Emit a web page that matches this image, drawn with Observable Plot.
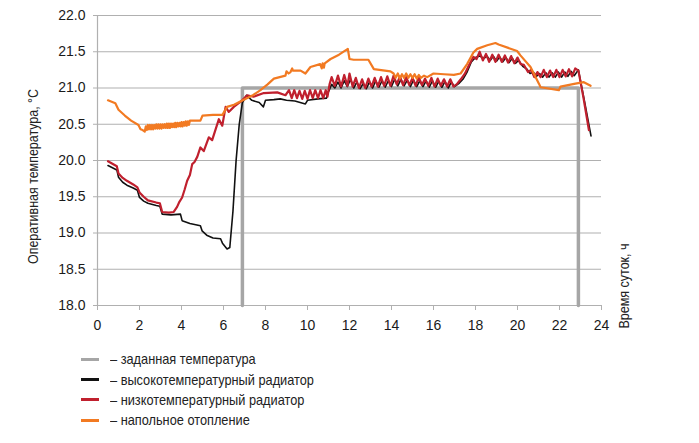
<!DOCTYPE html>
<html><head><meta charset="utf-8">
<script src="https://cdn.jsdelivr.net/npm/d3@7"></script>
<script src="https://cdn.jsdelivr.net/npm/@observablehq/plot@0.6"></script>
<style>
body{margin:0;background:#fff;font-family:"Liberation Sans",Arial,sans-serif;}
#wrap{position:relative;width:699px;height:443px;}
.legend{position:absolute;left:81px;top:349px;}
.row{height:20.4px;display:flex;align-items:center;font-size:14.5px;color:#222;white-space:nowrap;}
.sw{width:18px;height:3px;margin-right:11px;flex:none;}
.tx{display:inline-block;transform:scaleX(0.88);transform-origin:left center;}
</style></head>
<body><div id="wrap"></div>
<script>
const xTicks = [0,2,4,6,8,10,12,14,16,18,20,22,24];
const yTicks = [18.0,18.5,19.0,19.5,20.0,20.5,21.0,21.5,22.0];
const seriesNames = ["заданная температура","высокотемпературный радиатор","низкотемпературный радиатор","напольное отопление"];
const seriesColors = ["#a6a6a6","#111111","#c0202e","#f27a22"];
const xLabel = "Время суток, ч";
const yLabel = "Оперативная температура, °C";

const setpoint = [[6.9,18],[6.9,21],[22.9,21],[22.9,18]];

const highTemp = [[0.5,19.93],[0.92,19.87],[1.0,19.77],[1.2,19.7],[1.4,19.66],[1.7,19.62],[1.9,19.59],[2.0,19.49],[2.2,19.44],[2.4,19.41],[2.8,19.38],[2.97,19.37],[3.08,19.26],[3.5,19.25],[3.95,19.26],[4.03,19.17],[4.4,19.13],[4.9,19.1],[4.98,19.03],[5.2,18.97],[5.5,18.93],[5.86,18.92],[5.95,18.86],[6.17,18.78],[6.3,18.8],[6.45,19.3],[6.6,20.0],[6.75,20.5],[6.9,20.8],[7.1,20.9],[7.35,20.83],[7.7,20.8],[7.9,20.74],[8.0,20.83],[8.4,20.84],[8.7,20.85],[9.0,20.83],[9.4,20.82],[9.9,20.78],[10.0,20.83],[10.5,20.85],[10.9,20.86],[11.0,20.95],[11.15,21.05],[11.3,21.0],[11.45,21.08],[11.6,21.0],[11.75,21.1],[11.9,21.02],[12.05,21.12],[12.2,21.0],[12.35,21.08],[12.5,20.99],[12.65,21.06],[12.8,20.99],[12.95,21.08],[13.1,21.0],[13.25,21.1],[13.4,21.01],[13.55,21.1],[13.7,21.01],[13.85,21.1],[14.0,21.02],[14.15,21.12],[14.3,21.03],[14.45,21.12],[14.6,21.03],[14.75,21.11],[14.9,21.02],[15.05,21.11],[15.2,21.02],[15.35,21.1],[15.5,21.02],[15.65,21.1],[15.8,21.01],[15.95,21.1],[16.1,21.01],[16.25,21.09],[16.4,21.01],[16.55,21.09],[16.7,21.0],[16.85,21.08],[17.0,21.02],[17.2,21.06],[17.4,21.12],[17.6,21.22],[17.8,21.36],[18.0,21.42],[18.2,21.44],[18.4,21.41],[18.55,21.44],[18.7,21.38],[18.85,21.44],[19.0,21.37],[19.15,21.43],[19.3,21.36],[19.45,21.42],[19.6,21.35],[19.75,21.41],[19.9,21.34],[20.05,21.38],[20.25,21.3],[20.45,21.26],[20.6,21.2],[20.75,21.22],[20.9,21.16],[21.05,21.2],[21.2,21.15],[21.35,21.21],[21.5,21.15],[21.65,21.21],[21.8,21.15],[21.95,21.22],[22.1,21.15],[22.25,21.22],[22.4,21.16],[22.55,21.23],[22.7,21.17],[22.9,21.25],[23.2,20.8],[23.5,20.34]];

const lowTemp = [[0.5,19.99],[0.92,19.92],[1.0,19.82],[1.2,19.76],[1.4,19.72],[1.7,19.67],[1.9,19.63],[2.0,19.56],[2.2,19.5],[2.4,19.45],[2.8,19.42],[2.97,19.41],[3.08,19.29],[3.4,19.28],[3.63,19.29],[3.79,19.36],[3.9,19.43],[4.03,19.49],[4.15,19.6],[4.27,19.72],[4.4,19.8],[4.51,19.95],[4.62,19.98],[4.75,20.05],[4.9,20.18],[5.06,20.13],[5.3,20.32],[5.46,20.28],[5.78,20.57],[5.94,20.48],[6.1,20.74],[6.25,20.67],[6.49,20.74],[6.89,20.83],[7.13,20.9],[7.43,20.88],[7.92,20.93],[8.56,20.94],[8.95,20.9],[9.12,20.97],[9.25,20.86],[9.37,20.97],[9.5,20.86],[9.62,20.96],[9.75,20.85],[9.87,20.96],[10.0,20.85],[10.12,20.97],[10.25,20.86],[10.37,20.97],[10.5,20.86],[10.62,20.97],[10.75,20.86],[10.87,20.97],[10.95,20.88],[11.05,21.05],[11.15,21.15],[11.3,21.03],[11.45,21.17],[11.6,21.02],[11.75,21.18],[11.9,21.03],[12.0,21.2],[12.15,21.02],[12.3,21.14],[12.45,21.0],[12.6,21.12],[12.75,21.0],[12.9,21.13],[13.05,21.02],[13.2,21.14],[13.35,21.02],[13.5,21.15],[13.65,21.03],[13.8,21.16],[13.95,21.03],[14.1,21.17],[14.25,21.05],[14.4,21.16],[14.55,21.04],[14.7,21.15],[14.85,21.04],[15.0,21.14],[15.15,21.03],[15.3,21.15],[15.45,21.04],[15.6,21.13],[15.75,21.03],[15.9,21.14],[16.05,21.02],[16.2,21.13],[16.35,21.03],[16.5,21.12],[16.65,21.02],[16.8,21.12],[16.95,21.02],[17.1,21.05],[17.3,21.12],[17.5,21.2],[17.7,21.32],[17.9,21.43],[18.05,21.4],[18.2,21.5],[18.35,21.38],[18.5,21.47],[18.65,21.36],[18.8,21.46],[18.95,21.36],[19.1,21.46],[19.25,21.36],[19.4,21.45],[19.55,21.35],[19.7,21.44],[19.85,21.34],[20.0,21.42],[20.15,21.33],[20.3,21.32],[20.5,21.22],[20.65,21.25],[20.8,21.15],[20.95,21.22],[21.1,21.15],[21.25,21.25],[21.4,21.15],[21.55,21.24],[21.7,21.15],[21.85,21.25],[22.0,21.15],[22.15,21.25],[22.3,21.16],[22.45,21.26],[22.6,21.16],[22.75,21.27],[22.9,21.24],[23.15,20.85],[23.4,20.42]];

const floorHeating = [[0.5,20.83],[0.85,20.79],[1.0,20.7],[1.3,20.62],[1.6,20.55],[1.95,20.49],[2.05,20.43],[2.15,20.42],[2.25,20.4],[2.3,20.47],[2.35,20.42],[2.4,20.49],[2.45,20.43],[2.5,20.49],[2.55,20.43],[2.6,20.49],[2.65,20.43],[2.7,20.49],[2.75,20.44],[2.8,20.5],[2.85,20.44],[2.9,20.5],[2.95,20.44],[3.0,20.5],[3.05,20.44],[3.1,20.5],[3.15,20.45],[3.2,20.5],[3.25,20.45],[3.3,20.51],[3.35,20.45],[3.4,20.51],[3.45,20.45],[3.5,20.51],[3.55,20.46],[3.6,20.51],[3.65,20.46],[3.7,20.52],[3.75,20.46],[3.8,20.52],[3.85,20.47],[3.9,20.52],[3.95,20.47],[4.0,20.53],[4.05,20.47],[4.1,20.53],[4.15,20.48],[4.2,20.54],[4.25,20.48],[4.3,20.54],[4.35,20.49],[4.4,20.55],[4.5,20.55],[4.9,20.55],[5.0,20.62],[5.5,20.63],[5.95,20.63],[6.17,20.74],[6.5,20.77],[6.92,20.83],[7.4,20.9],[7.76,20.97],[8.1,21.05],[8.4,21.13],[8.95,21.17],[9.0,21.23],[9.1,21.2],[9.19,21.22],[9.27,21.27],[9.3,21.24],[9.67,21.24],[9.9,21.2],[10.14,21.29],[10.6,21.33],[10.68,21.27],[10.72,21.34],[10.78,21.28],[10.82,21.34],[11.1,21.4],[11.5,21.46],[11.92,21.54],[12.0,21.4],[12.2,21.39],[12.9,21.39],[13.16,21.26],[13.95,21.23],[14.1,21.2],[14.2,21.14],[14.3,21.2],[14.4,21.13],[14.5,21.19],[14.6,21.14],[14.7,21.2],[14.8,21.14],[14.9,21.19],[15.0,21.14],[15.1,21.19],[15.2,21.13],[15.3,21.18],[15.4,21.14],[15.55,21.17],[15.7,21.15],[16.0,21.2],[16.5,21.19],[16.97,21.18],[17.29,21.2],[17.6,21.33],[17.9,21.49],[18.08,21.54],[18.56,21.59],[18.95,21.62],[19.1,21.6],[19.98,21.51],[20.14,21.45],[20.62,21.29],[21.02,21.06],[21.1,21.01],[21.97,20.97],[22.05,21.02],[22.76,21.06],[23.16,21.08],[23.48,21.03]];

const series = [setpoint, highTemp, lowTemp, floorHeating];
const widths = [3.5, 1.6, 2.2, 2.2];

const chart = Plot.plot({
  width: 699, height: 340,
  marginLeft: 97, marginRight: 98, marginTop: 15, marginBottom: 35,
  style: {fontFamily: '"Liberation Sans", Arial, sans-serif', fontSize: "14px", color: "#1a1a1a", background: "white", overflow: "visible"},
  x: {domain: [0, 24]},
  y: {domain: [18, 22]},
  marks: [
    Plot.gridY(yTicks, {stroke: "#b0b0b0", strokeOpacity: 1, strokeWidth: 1.2}),
    Plot.ruleX([0], {stroke: "#b0b0b0", strokeWidth: 1.2}),
    Plot.axisY(yTicks, {tickFormat: d3.format(".1f"), tickSize: 4, tickPadding: 8, stroke: "#b0b0b0", label: null, fontSize: 14}),
    Plot.axisX(xTicks, {tickSize: 5, tickPadding: 10, stroke: "#b0b0b0", label: null, fontSize: 14}),
    ...series.map((s, i) => Plot.line(s, {x: d => d[0], y: d => d[1], stroke: seriesColors[i], strokeWidth: widths[i], strokeLinejoin: "round"})),
    Plot.text([yLabel], {frameAnchor: "left", rotate: -90, dx: -64, dy: 16, textAnchor: "middle", fontSize: 14.5, fill: "#222"}),
    Plot.text([xLabel], {x: 24, y: 18, rotate: -90, dx: 23, dy: 23, textAnchor: "start", fontSize: 14.5, fill: "#222"})
  ]
});
d3.select(chart).selectAll("text").each(function() {
  const t = this.textContent;
  if (t === yLabel) { this.setAttribute("textLength", 175); this.setAttribute("lengthAdjust", "spacingAndGlyphs"); }
  if (t === xLabel) { this.setAttribute("textLength", 85); this.setAttribute("lengthAdjust", "spacingAndGlyphs"); }
});
const wrap = document.getElementById("wrap");
wrap.appendChild(chart);
const leg = document.createElement("div");
leg.className = "legend";
seriesNames.forEach((n, i) => {
  const r = document.createElement("div"); r.className = "row";
  const sw = document.createElement("span"); sw.className = "sw"; sw.style.background = seriesColors[i];
  const t = document.createElement("span"); t.className = "tx"; t.textContent = "– " + n;
  r.appendChild(sw); r.appendChild(t); leg.appendChild(r);
});
wrap.appendChild(leg);
</script></body></html>
